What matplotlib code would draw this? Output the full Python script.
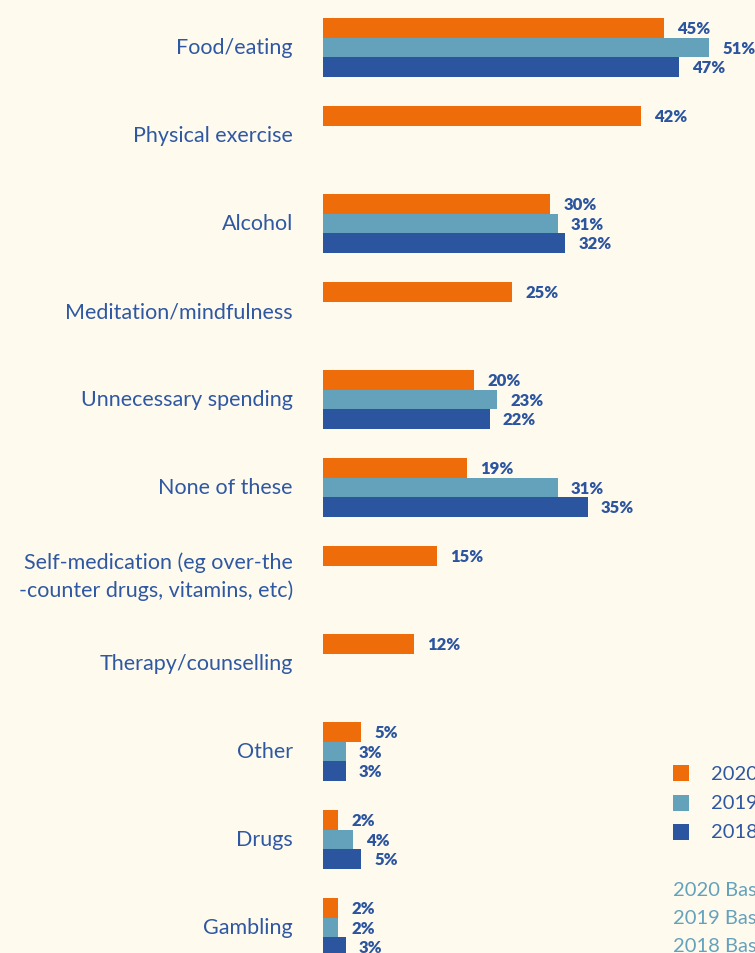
import matplotlib.pyplot as plt
import numpy as np

categories = ['Food/eating', 'Physical exercise', 'Alcohol', 'Meditation/mindfulness',
              'Unnecessary spending', 'None of these',
              'Self-medication (eg over-the\n-counter drugs, vitamins, etc)',
              'Therapy/counselling', 'Other', 'Drugs', 'Gambling']
v2020 = [45, 42, 30, 25, 20, 19, 15, 12, 5, 2, 2]
v2019 = [51, None, 31, None, 23, 31, None, None, 3, 4, 2]
v2018 = [47, None, 32, None, 22, 35, None, None, 3, 5, 3]
years = ['2020', '2019', '2018']
bases = ['2020 Base: all adults surveyed', '2019 Base: all adults surveyed',
         '2018 Base: all adults surveyed']

bg = '#FFFAEE'
c_or = '#EE6C0A'
c_lb = '#64A2BC'
c_db = '#2C55A0'
txt = '#2F58A2'

plt.rcParams['font.family'] = ['Lato', 'DejaVu Sans']

W, H = 755, 954
fig = plt.figure(figsize=(W / 100, H / 100), dpi=100)
fig.patch.set_facecolor(bg)

x0 = 323
ppp = (709 - 323) / 51.0   # pixels per percent
ax = fig.add_axes([x0 / W, 0, 1 - x0 / W, 1])
ax.set_facecolor(bg)
ax.set_xlim(0, (W - x0) / ppp)
pitch = 88.0
top = 48.5
ax.set_ylim((H - top) / pitch, -top / pitch)
ax.axis('off')

bh = 19.5 / pitch
for off, vals, col in [(-bh, v2020, c_or), (0, v2019, c_lb), (bh, v2018, c_db)]:
    for i, v in enumerate(vals):
        if v is None:
            continue
        ax.barh(i + off, v, height=bh, color=col, linewidth=0)
        ax.annotate(f'{v}%', (v, i + off), xytext=(9.5, 0), textcoords='offset points',
                    ha='left', va='center', fontsize=12, fontweight='heavy', color=c_db)

for i, c in enumerate(categories):
    y = 1 - (top + pitch * i) / H
    fig.text(293 / W, y, c, ha='right', va='center', fontsize=15.5, color=txt,
             linespacing=1.45)

for k, (yr, col) in enumerate(zip(years, [c_or, c_lb, c_db])):
    yp = 774 + 29.5 * k
    fig.patches.append(plt.Rectangle((673 / W, 1 - (yp + 8) / H), 16 / W, 16 / H,
                                     transform=fig.transFigure, color=col, lw=0))
    fig.text(711 / W, 1 - yp / H, yr, ha='left', va='center', fontsize=14.5, color=txt)

for k, b in enumerate(bases):
    yp = 891 + 28 * k
    fig.text(673 / W, 1 - yp / H, b, ha='left', va='center', fontsize=14.5, color=c_lb)

fig.savefig('out.png', dpi=100, facecolor=bg)
